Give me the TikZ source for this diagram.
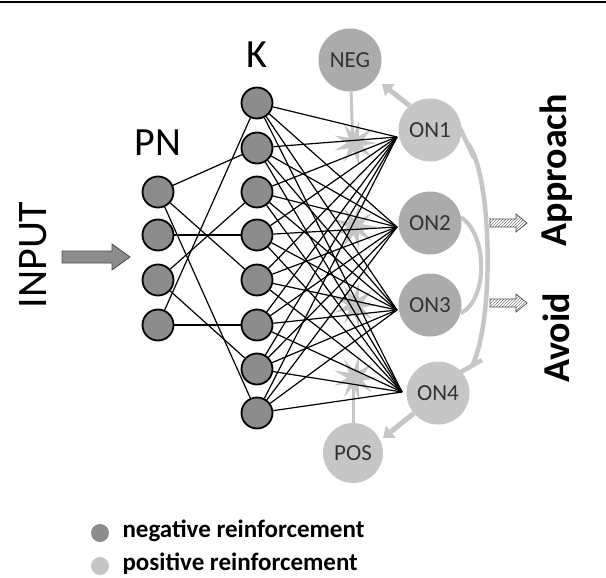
\documentclass[tikz,border=0pt]{standalone}
\usepackage{fontspec}
\setmainfont{Carlito}
\usetikzlibrary{arrows.meta,patterns}
\definecolor{dk}{HTML}{8C8C8C}
\definecolor{mid}{HTML}{ABABAB}
\definecolor{lt}{HTML}{C6C6C6}
\begin{document}
\begin{tikzpicture}[x=1pt,y=-1pt,
  neu/.style={circle,draw=black,line width=1.8pt,fill=dk,minimum size=31pt,inner sep=0pt},
  on/.style={circle,minimum size=63pt,inner sep=0pt,font=\fontsize{23}{23}\selectfont,text=black!80},
  syn/.style={black,line width=1.2pt},
  gray arrow/.style={draw=lt,line width=5pt,-{Triangle[length=10pt,width=15pt]}},
  inh/.style={draw=lt,line width=4.5pt},
  burst/.style={fill=lt}]
\useasboundingbox (0,0) rectangle (606,578);
\draw[line width=1.5pt] (0,2) -- (606,2);
% bursts
\foreach \y in {143,227,305,378}
  \fill[burst] (355,\y) +(0:22) \foreach \a in {20,40,...,340} {-- +(\a:{mod(\a,40)==0 ? 22 : 8})} -- cycle;
% outer nodes
\node[on,fill=mid] (neg) at (350,60) {NEG};
\node[on,fill=lt,minimum size=60pt] (pos) at (353,453) {POS};
\node[on,fill=lt] (on1) at (430,130) {ON1};
\node[on,fill=mid] (on2) at (430,223) {ON2};
\node[on,fill=mid] (on3) at (430,305) {ON3};
\node[on,fill=lt] (on4) at (438,393) {ON4};
\coordinate (v1) at (353,150);
\coordinate (v2) at (353,370);
\draw[draw=lt,line width=3pt] (neg) -- (v1);
\draw[draw=lt,line width=3pt] (pos) -- (v2);
\draw[gray arrow] (on1.130) -- (382,84);
\draw[gray arrow] (on4.220) -- (383,438);
\coordinate (ta) at (467,143);
\coordinate (tb) at (472,366);
\draw[inh] (ta) .. controls (492,170) and (495,320) .. (tb);
\draw[inh] (460,128) -- (474,158);
\draw[inh] (461,372) -- (482,360);
\draw[draw=lt,line width=4pt] (on2.10) .. controls (488,235) and (488,300) .. (on3.345);
% convergence points
\coordinate (c1) at (397,137);
\coordinate (c2) at (397,227);
\coordinate (c3) at (397,310);
\coordinate (c4) at (402,392);
% PN and K
\foreach \i/\y in {1/192,2/235,3/280,4/325} \node[neu] (p\i) at (158,\y) {};
\foreach \i/\y in {1/103,2/148,3/192,4/235,5/280,6/325,7/369,8/413} \node[neu] (k\i) at (257,\y) {};
\foreach \a/\b in {1/2,1/5,1/8,2/4,3/3,3/7,4/1,4/6} \draw[syn] (p\a) -- (k\b);
\foreach \i in {1,...,8} \foreach \j in {1,...,4} \draw[syn] (k\i) -- (c\j);
% labels
\node[font=\fontsize{40}{40}\selectfont] (pnl) at (158,143) {PN};
\node[font=\fontsize{40}{40}\selectfont] (kl) at (257,55) {K};
\node[rotate=90,font=\fontsize{42}{42}\selectfont] (inp) at (33,255) {INPUT};
\draw[draw=black!70,fill=dk,line width=0.8pt] (62,251) -- (112,251) -- (112,244) -- (130,257) -- (112,270) -- (112,263) -- (62,263) -- cycle;
\foreach \y in {223,303}
  \draw[draw=black!70,line width=0.7pt,pattern=north east lines,pattern color=black!50]
    (490,\y-4) -- (516,\y-4) -- (516,\y-9) -- (527,\y) -- (516,\y+9) -- (516,\y+4) -- (490,\y+4) -- cycle;
\node[rotate=90,font=\bfseries\fontsize{38}{38}\selectfont] (ap) at (556,170) {Approach};
\node[rotate=90,font=\bfseries\fontsize{38}{38}\selectfont] (av) at (556,338) {Avoid};
% legend
\node[circle,fill=dk,minimum size=18pt,inner sep=0pt] (l1) at (100,533) {};
\node[circle,fill=lt,minimum size=18pt,inner sep=0pt] (l2) at (100,566) {};
\node[anchor=west,font=\bfseries\fontsize{25}{25}\selectfont] (t1) at (119,531) {negative reinforcement};
\node[anchor=west,font=\bfseries\fontsize{25}{25}\selectfont] (t2) at (119,564) {positive reinforcement};
\end{tikzpicture}
\end{document}
